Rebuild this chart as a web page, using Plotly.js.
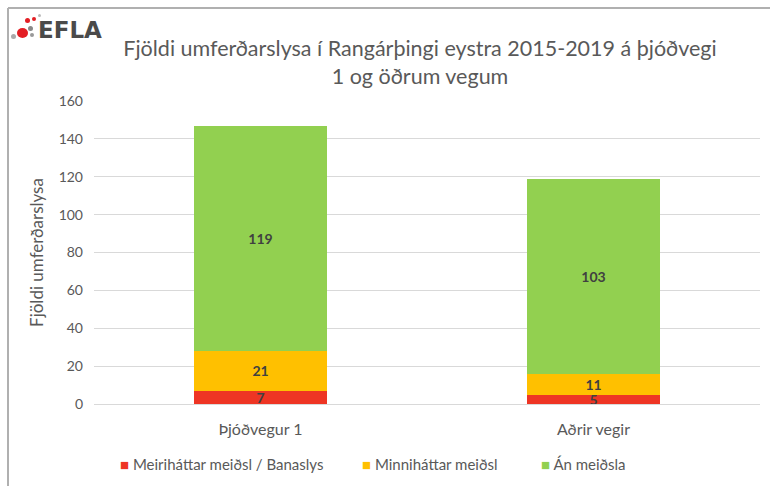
<!DOCTYPE html>
<html>
<head>
<meta charset="utf-8">
<script src="https://cdn.plot.ly/plotly-3.0.1.min.js"></script>
<style>html,body{margin:0;padding:0;background:#fff;}#chart{width:770px;height:486px;}</style>
</head>
<body>
<div id="chart"></div>
<script>
var categories = ["Þjóðvegur 1", "Aðrir vegir"];
var seriesNames = ["Meiriháttar meiðsl / Banaslys", "Minniháttar meiðsl", "Án meiðsla"];
var severe = [7, 5];
var minor = [21, 11];
var none = [119, 103];
var yTicks = [0, 20, 40, 60, 80, 100, 120, 140, 160];

var colors = ["#EE3524", "#FFC000", "#92D050"];
var values = [severe, minor, none];
var FONT = "Lato, 'Liberation Sans', sans-serif";

var traces = values.map(function (v, i) {
  return {
    type: "bar",
    name: seriesNames[i],
    x: categories,
    y: v,
    text: v.map(String),
    textposition: "inside",
    insidetextanchor: "middle",
    textangle: 0,
    constraintext: "none",
    textfont: {family: FONT, size: 14, color: "#404040", weight: "bold"},
    marker: {color: colors[i], line: {width: 0}},
    showlegend: false,
    hoverinfo: "x+y+name"
  };
});

var L = 94, T = 101, PW = 666, PH = 303;
function px(x) { return (x - L) / PW; }
function py(y) { return (T + PH - y) / PH; }

var shapes = [
  {type: "line", xref: "paper", yref: "paper", x0: px(8), x1: px(772), y0: py(8), y1: py(8), line: {color: "#b0b0b0", width: 2}},
  {type: "line", xref: "paper", yref: "paper", x0: px(8), x1: px(8), y0: py(8), y1: py(488), line: {color: "#b0b0b0", width: 2}},
  // logo dots
  {type: "circle", xref: "paper", yref: "paper", x0: px(17), x1: px(28), y0: py(28), y1: py(38), fillcolor: "#E31E24", line: {width: 0}},
  {type: "circle", xref: "paper", yref: "paper", x0: px(28), x1: px(33), y0: py(26), y1: py(31), fillcolor: "#888888", line: {width: 0}},
  {type: "circle", xref: "paper", yref: "paper", x0: px(11), x1: px(16), y0: py(34), y1: py(39), fillcolor: "#aaaaaa", line: {width: 0}},
  {type: "circle", xref: "paper", yref: "paper", x0: px(25), x1: px(30), y0: py(18), y1: py(23), fillcolor: "#E31E24", line: {width: 0}},
  {type: "circle", xref: "paper", yref: "paper", x0: px(32), x1: px(36), y0: py(17), y1: py(21), fillcolor: "#E31E24", line: {width: 0}},
  {type: "circle", xref: "paper", yref: "paper", x0: px(30), x1: px(34), y0: py(33), y1: py(37), fillcolor: "#999999", line: {width: 0}},
  {type: "circle", xref: "paper", yref: "paper", x0: px(38), x1: px(41), y0: py(14), y1: py(17), fillcolor: "#bbbbbb", line: {width: 0}}
];

// custom compact legend built from the series names/colours
var legendX = [118, 360, 539];
var annotations = seriesNames.map(function (n, i) {
  return {
    xref: "paper", yref: "paper", x: px(legendX[i]), y: py(464), xanchor: "left", yanchor: "middle",
    showarrow: false,
    text: '<span style="color:' + colors[i] + '">■</span> ' + n,
    font: {family: FONT, size: 15, color: "#595959"}
  };
});
annotations.push({
  xref: "paper", yref: "paper", x: px(36), y: py(30), xanchor: "left", yanchor: "middle",
  text: "<b>EFLA</b>", showarrow: false,
  font: {family: "'DejaVu Sans', sans-serif", size: 23, color: "#4a4a4a"}
});

var layout = {
  width: 770,
  height: 486,
  margin: {l: L, r: 770 - L - PW, t: T, b: 486 - T - PH, autoexpand: false},
  paper_bgcolor: "#ffffff",
  plot_bgcolor: "#ffffff",
  barmode: "stack",
  bargap: 0.6,
  showlegend: false,
  font: {family: FONT, color: "#595959", size: 13},
  title: {
    text: "Fjöldi umferðarslysa í Rangárþingi eystra 2015-2019 á þjóðvegi<br>1 og öðrum vegum",
    font: {family: FONT, size: 21.5, color: "#595959"},
    x: px(420), xanchor: "center", xref: "paper",
    y: 1 - 56 / 486, yanchor: "middle", yref: "container"
  },
  xaxis: {
    type: "category",
    tickfont: {size: 16, color: "#595959"},
    showgrid: false,
    showline: false,
    zeroline: false,
    ticks: "",
    automargin: false,
    ticklabelstandoff: 14
  },
  yaxis: {
    range: [0, 160],
    tickvals: yTicks,
    ticktext: yTicks.map(String),
    tickfont: {size: 14, color: "#595959"},
    showgrid: true,
    gridcolor: "#d9d9d9",
    gridwidth: 1,
    zeroline: true,
    zerolinecolor: "#d9d9d9",
    showline: false,
    ticks: "",
    automargin: false,
    ticklabelstandoff: 10,
    title: {text: "Fjöldi umferðarslysa", font: {size: 17, color: "#595959"}, standoff: 10}
  },
  uniformtext: {mode: "show", minsize: 14},
  shapes: shapes,
  annotations: annotations
};

Plotly.newPlot("chart", traces, layout, {displayModeBar: false, staticPlot: true});
</script>
</body>
</html>
